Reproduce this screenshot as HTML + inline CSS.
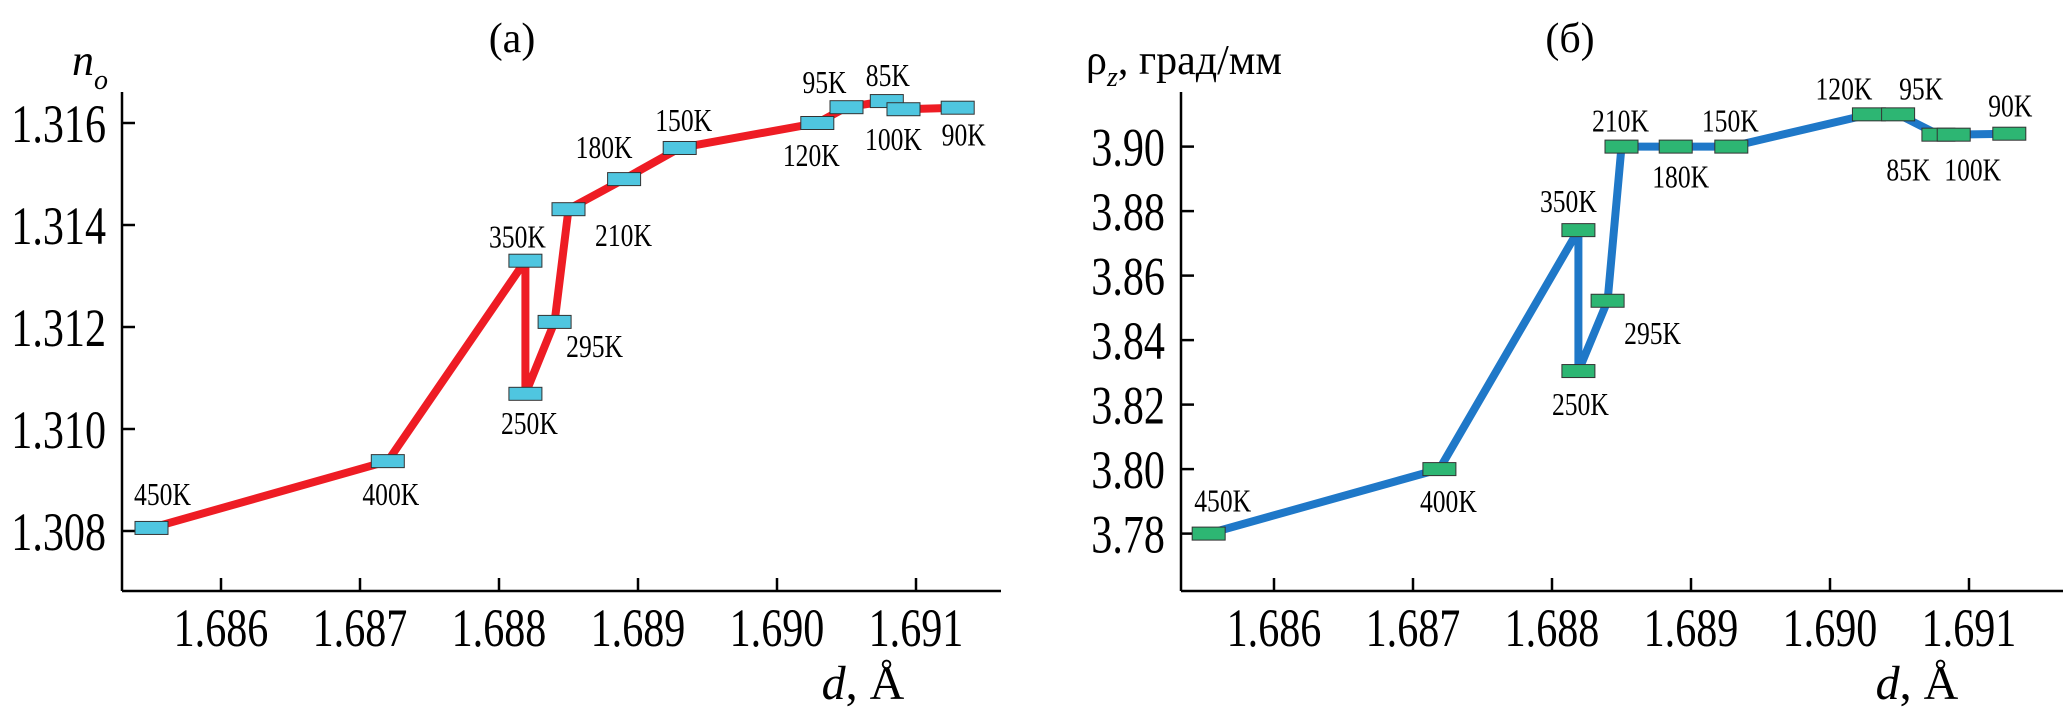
<!DOCTYPE html>
<html><head><meta charset="utf-8"><style>
html,body{margin:0;padding:0;background:#fff;}
svg{display:block;font-family:"Liberation Serif","DejaVu Serif",serif;}
</style></head><body>
<svg id="chart" width="2067" height="715" viewBox="0 0 2067 715" xmlns="http://www.w3.org/2000/svg"></svg>
<script>
const temps = ["450K","400K","350K","250K","295K","210K","180K","150K","120K","95K","85K","100K","90K"];
const dA = [1.68550,1.68720,1.68819,1.68819,1.68840,1.68850,1.68890,1.68930,1.69029,1.69050,1.69079,1.69091,1.69130];
const nA = [1.30806,1.30937,1.31330,1.31069,1.31210,1.31431,1.31490,1.31551,1.31600,1.31631,1.31643,1.31627,1.31630];
const dB = [1.68553,1.68719,1.68819,1.68819,1.68840,1.68850,1.68889,1.68929,1.69028,1.69049,1.69078,1.69089,1.69129];
const rhoB = [3.780,3.800,3.8741,3.8304,3.8522,3.900,3.900,3.900,3.910,3.910,3.9037,3.9037,3.904];
const xTicks = [1.686,1.687,1.688,1.689,1.690,1.691];
const yTicksA = [1.308,1.310,1.312,1.314,1.316];
const yTicksB = [3.78,3.80,3.82,3.84,3.86,3.88,3.90];
const offA = [[11,-34],[3,33],[-8,-24],[4,29],[40,24],[55,26],[-20,-32],[4,-28],[-6,32],[-22,-25],[1,-26],[-10,30],[6,27]];
const offB = [[14,-33],[9,32],[-10,-29],[2,33],[45,32],[-1,-26],[5,30],[-1,-26],[-25,-26],[23,-26],[-30,35],[19,35],[1,-28]];

const NS="http://www.w3.org/2000/svg";
const svg=document.getElementById('chart');
function mk(tag,attrs,parent){const e=document.createElementNS(NS,tag);for(const k in attrs)e.setAttribute(k,attrs[k]);(parent||svg).appendChild(e);return e;}

function panel(cfg){
  const g=mk('g',{});
  
  
  const X=v=>cfg.x0+(v-1.686)/0.001*139;
  const Y=v=>cfg.yRef+(v-cfg.yRefVal)*cfg.yScale;
  const ya=mk('line',{x1:cfg.ax,y1:92,x2:cfg.ax,y2:591,stroke:'#000','stroke-width':2.5},g);
  
  
  const xa=mk('line',{x1:cfg.ax,y1:591,x2:cfg.axEnd,y2:591,stroke:'#000','stroke-width':2.5},g);
  
  
  xTicks.forEach(t=>{
    const x=X(t);
    mk('line',{x1:x,y1:578,x2:x,y2:591,stroke:'#000','stroke-width':2.5},g);
    const tx=mk('text',{x:x,y:646,'font-size':54,'text-anchor':'middle',transform:`translate(${x},0) scale(0.78,1) translate(${-x},0)`},g);
    tx.textContent=t.toFixed(3);
    
    
  });
  cfg.yTicks.forEach(t=>{
    const y=Y(t);
    mk('line',{x1:cfg.ax,y1:y,x2:cfg.ax+13,y2:y,stroke:'#000','stroke-width':2.5},g);
    const rx=cfg.ax-16;
    const tx=mk('text',{x:rx,y:y+19,'font-size':54,'text-anchor':'end',transform:`translate(${rx},0) scale(0.78,1) translate(${-rx},0)`},g);
    tx.textContent=t.toFixed(cfg.dec);
    
    
  });
  const pts=cfg.xs.map((v,i)=>X(v)+','+Y(cfg.ys[i])).join(' ');
  const pl=mk('polyline',{points:pts,fill:'none',stroke:cfg.lineColor,'stroke-width':8,'stroke-linejoin':'round'},g);
  
  
  cfg.xs.forEach((v,i)=>{
    const x=X(v),y=Y(cfg.ys[i]);
    const r=mk('rect',{x:x-16.5,y:y-6.5,width:33,height:13,fill:cfg.markColor,stroke:'#333','stroke-width':1},g);
    
    
    const lx=x+cfg.off[i][0],ly=y+cfg.off[i][1]+11;
    const t=mk('text',{x:lx,y:ly,'font-size':32,'text-anchor':'middle',transform:`translate(${lx},0) scale(0.8,1) translate(${-lx},0)`},g);
    t.textContent=temps[i];
    
    
  });
  return g;
}

panel({name:'panel-a',x0:221,ax:122,axEnd:1001,yRef:531,yRefVal:1.308,yScale:-51000,yTicks:yTicksA,dec:3,xs:dA,ys:nA,lineColor:'#ee1c24',markColor:'#4fc6e0',off:offA});
panel({name:'panel-b',x0:1274,ax:1181,axEnd:2063,yRef:533.6,yRefVal:3.78,yScale:-3225,yTicks:yTicksB,dec:2,xs:dB,ys:rhoB,lineColor:'#1f78c8',markColor:'#2db673',off:offB});

function txt(name,x,y,size,content,extra){
  const t=mk('text',Object.assign({x:x,y:y,'font-size':size},extra||{}));
  t.innerHTML=content;
  
  
}
txt('title-a',512,52,42,'(a)',{'text-anchor':'middle'});
txt('title-b',1570,52,42,'(б)',{'text-anchor':'middle'});
txt('y-axis-title-a',72,75,44,'<tspan font-style="italic">n</tspan><tspan font-style="italic" font-size="28" dy="14">o</tspan>');
txt('y-axis-title-b',1086,74,42,'ρ<tspan font-style="italic" font-size="28" dy="12">z</tspan><tspan dy="-12">, град/мм</tspan>');
txt('x-axis-title-a',863,699,48,'<tspan font-style="italic">d</tspan>, Å',{'text-anchor':'middle'});
txt('x-axis-title-b',1917,699,48,'<tspan font-style="italic">d</tspan>, Å',{'text-anchor':'middle'});
</script>
</body></html>
